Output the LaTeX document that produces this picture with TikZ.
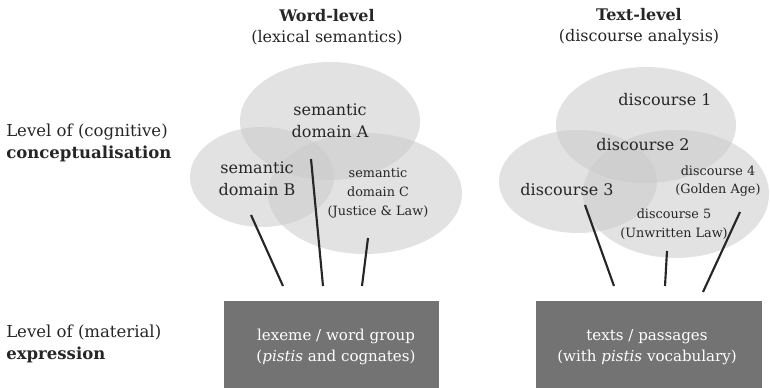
\documentclass[tikz,border=0pt]{standalone}
\usepackage{fontspec}
\setmainfont{DejaVu Serif}
\usetikzlibrary{positioning}
\definecolor{blobgray}{HTML}{CACACA}
\definecolor{boxgray}{HTML}{737373}

\begin{document}
\begin{tikzpicture}[
    x=0.75pt, y=-0.75pt,
    blob/.style={fill=blobgray, fill opacity=0.55},
    txt/.style={align=center, inner sep=0pt, text=black!85, font=\fontsize{12}{16.5}\selectfont},
    smalltxt/.style={align=center, inner sep=0pt, text=black!85, font=\fontsize{9.6}{14}\selectfont},
    levelbox/.style={fill=boxgray, text=white, align=center, inner sep=0pt,
        font=\fontsize{11.3}{15.5}\selectfont},
    link/.style={line width=1.6pt, black!85}
]
    \useasboundingbox (0,0) rectangle (770,388);

    % Headings
    \node[txt, font=\fontsize{12}{15.75}\selectfont] (wordhead) at (327,27)
        {\textbf{Word-level}\\(lexical semantics)};
    \node[txt, font=\fontsize{12}{15.75}\selectfont] (texthead) at (639,27)
        {\textbf{Text-level}\\(discourse analysis)};

    % Level labels
    \node[txt, align=left, anchor=west, font=\fontsize{12.4}{16.5}\selectfont] (cogn) at (6,143)
        {Level of (cognitive)\\\textbf{conceptualisation}};
    \node[txt, align=left, anchor=west, font=\fontsize{12.4}{16.5}\selectfont] (matr) at (6,344)
        {Level of (material)\\\textbf{expression}};

    % 1. Semantic domains (left)
    \fill[blob] (330,121) ellipse [x radius=90, y radius=59];
    \fill[blob] (262,177) ellipse [x radius=72, y radius=50];
    \fill[blob] (365,193.5) ellipse [x radius=97, y radius=60.5];
    \node[txt] (domA) at (330,121) {semantic\\domain A};
    \node[txt] (domB) at (257,179) {semantic\\domain B};
    \node[smalltxt] (domC) at (378,193) {semantic\\domain C\\(Justice \& Law)};

    % 2. Discourses (right)
    \fill[blob] (646,125) ellipse [x radius=90, y radius=58];
    \fill[blob] (578,181.5) ellipse [x radius=79, y radius=51.5];
    \fill[blob] (676,194) ellipse [x radius=93, y radius=64];
    \node[txt] (disc1) at (665,100) {discourse 1};
    \node[txt] (disc2) at (643,145) {discourse 2};
    \node[txt] (disc3) at (567,190) {discourse 3};
    \node[smalltxt] (disc4) at (718,181) {discourse 4\\(Golden Age)};
    \node[smalltxt] (disc5) at (674,224) {discourse 5\\(Unwritten Law)};

    % 3. Expression boxes (text sits a little right/low of centre)
    \node[levelbox, minimum width=161.25pt, minimum height=65.25pt] (lexbox) at (331.5,344.5) {};
    \node[levelbox, minimum width=169.5pt, minimum height=65.25pt] (textbox) at (649,344.5) {};
    \node[levelbox, fill=none] (lextxt) at (336,347)
        {lexeme / word group\\(\textit{pistis} and cognates)};
    \node[levelbox, fill=none] (texttxt) at (647,347)
        {texts / passages\\(with \textit{pistis} vocabulary)};

    % Connector ends
    \coordinate (la) at (251,215);  \coordinate (lA) at (283,286);
    \coordinate (lb) at (311,159);  \coordinate (lB) at (323,286);
    \coordinate (lc) at (368,238);  \coordinate (lC) at (362,286);
    \coordinate (ra) at (585,205);  \coordinate (rA) at (614,286);
    \coordinate (rb) at (667,251);  \coordinate (rB) at (665,286);
    \coordinate (rc) at (740,212);  \coordinate (rC) at (703,292);

    % Connectors
    \draw[link] (la) -- (lA);
    \draw[link] (lb) -- (lB);
    \draw[link] (lc) -- (lC);
    \draw[link] (ra) -- (rA);
    \draw[link] (rb) -- (rB);
    \draw[link] (rc) -- (rC);

\end{tikzpicture}
\end{document}
